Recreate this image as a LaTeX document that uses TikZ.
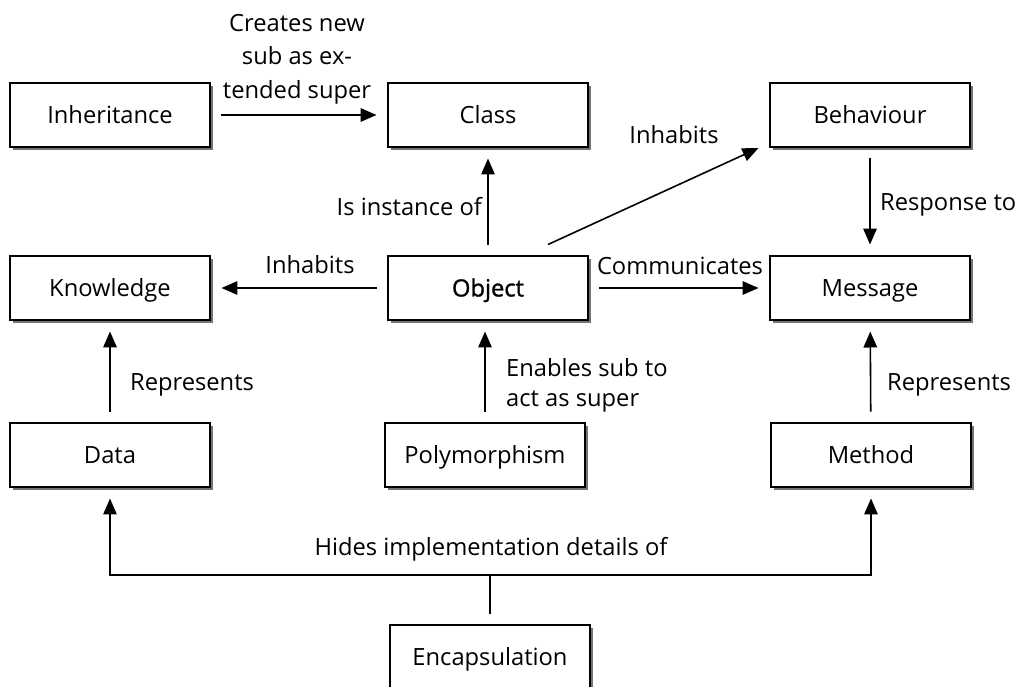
\documentclass[tikz,border=0pt]{standalone}
\usepackage{fontspec}
\setmainfont{Open Sans}
\newfontfamily\heavyfont[FakeBold=1.2]{Open Sans}
\usetikzlibrary{arrows.meta,shadows}

\begin{document}
\begin{tikzpicture}[
    x=0.02cm,y=-0.02cm,font=\fontsize{13.5}{19}\selectfont,
    concept/.style={draw=black,line width=1.1pt,fill=white,
      minimum width=4cm,minimum height=1.28cm,inner sep=0pt,outer sep=0.23cm,
      text height=2.1ex,text depth=0.3ex,
      drop shadow={shadow xshift=0.06cm,shadow yshift=-0.06cm,fill=black!55,opacity=1}},
    lbl/.style={inner sep=1pt,align=center},
    arrow/.style={-{Triangle[length=0.32cm,width=0.27cm]},line width=0.9pt,draw=black}
  ]
    \clip (0,0) rectangle (1017,686);
    \fill[white] (0,0) rectangle (1017,686);

    % concept boxes
    \node[concept] (inherit) at (110,115) {Inheritance};
    \node[concept] (class) at (488,115) {Class};
    \node[concept] (behav) at (870,115) {Behaviour};
    \node[concept] (know) at (110,288) {Knowledge};
    \node[concept] (object) at (488,288) {{\heavyfont Object}};
    \node[concept] (message) at (870,288) {Message};
    \node[concept] (data) at (110,455) {Data};
    \node[concept] (poly) at (485,455) {Polymorphism};
    \node[concept] (method) at (871,455) {Method};
    \node[concept] (encap) at (490,657) {Encapsulation};
    \coordinate (split) at (490,575);

    % relations
    \draw[arrow] (inherit) -- (class);
    \draw[arrow] (object) -- (class);
    \draw[arrow] (object) -- (know);
    \draw[arrow] (object) -- (message);
    \draw[arrow] ([xshift=1.2cm]object.north) -- ([yshift=-0.66cm]behav.west);
    \draw[arrow] (behav) -- (message);
    \draw[arrow] (data) -- (know);
    \draw[arrow] (poly.north) -- (poly.north |- object.south);
    \draw[arrow] (method) -- (message);
    \draw[line width=0.9pt] (encap.north) -- (split);
    \draw[arrow] (split) -| (data.south);
    \draw[arrow] (split) -| (method.south);

    % labels
    \node[lbl] (lcreate) at (297,59) {Creates new\\sub as ex-\\tended super};
    \node[lbl,anchor=east] (linst) at (484,207) {Is instance of};
    \node[lbl] (linhk) at (310,265) {Inhabits};
    \node[lbl] (linhb) at (674,135) {Inhabits};
    \node[lbl] (lcomm) at (680,266) {Communicates};
    \node[lbl,anchor=west] (lresp) at (878,205) {Response to};
    \node[lbl,anchor=west] (lrepd) at (128,385) {Represents};
    \node[lbl,anchor=west,align=left,font=\fontsize{13.5}{17}\selectfont] (lenab) at (504,385) {Enables sub to\\act as super};
    \node[lbl,anchor=west] (lrepm) at (885,385) {Represents};
    \node[lbl] (lhide) at (491,549) {Hides implementation details of};
\end{tikzpicture}
\end{document}
